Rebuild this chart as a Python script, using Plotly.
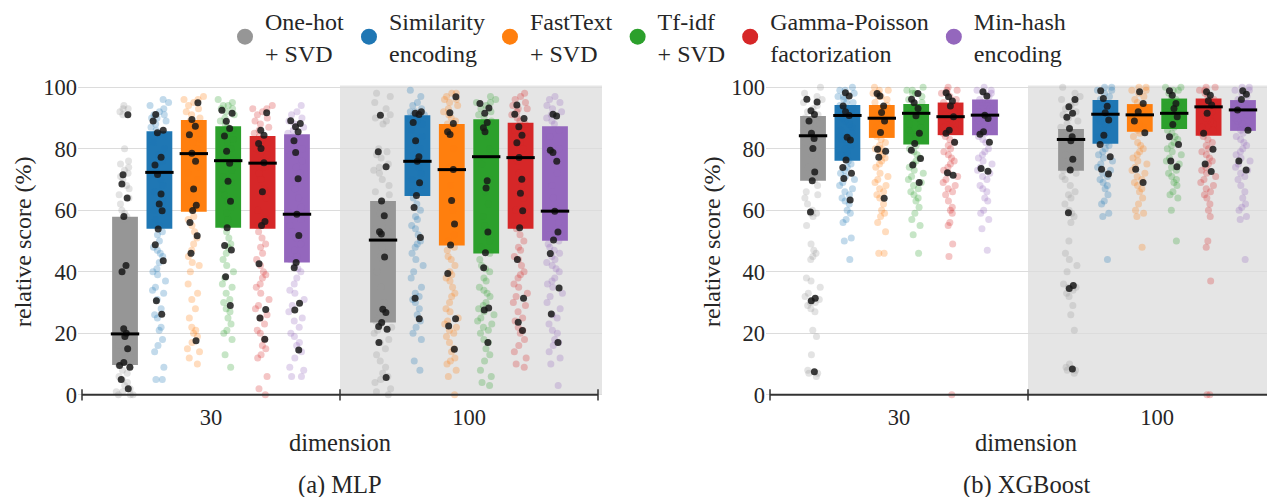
import plotly.graph_objects as go

# ---------------- data ----------------
ENCODERS = ["One-hot<br>+ SVD", "Similarity<br>encoding", "FastText<br>+ SVD",
            "Tf-idf<br>+ SVD", "Gamma-Poisson<br>factorization", "Min-hash<br>encoding"]
COLORS = ["#969696", "#1f77b4", "#ff7f0e", "#2ca02c", "#d62728", "#9467bd"]
DIMENSIONS = ["30", "100"]
Y_TICKS = [0, 20, 40, 60, 80, 100]

# box statistics: [dimension][encoder]
mlp_q1 = [[9.7, 54.0, 59.5, 54.3, 54.0, 43.0], [23.5, 64.6, 48.5, 45.9, 54.0, 50.1]]
mlp_med = [[19.8, 72.3, 78.4, 76.1, 75.3, 58.7], [50.3, 75.9, 73.2, 77.4, 77.1, 59.7]]
mlp_q3 = [[57.9, 85.7, 89.3, 87.3, 84.1, 84.7], [63.0, 90.9, 88.0, 89.6, 88.4, 87.3]]
xgb_q1 = [[69.6, 76.1, 83.5, 81.4, 84.4, 84.4], [72.8, 81.6, 85.5, 86.4, 84.2, 85.8]]
xgb_med = [[84.2, 90.8, 89.9, 91.5, 90.4, 90.9], [83.0, 91.2, 91.0, 91.5, 93.6, 92.6]]
xgb_q3 = [[90.6, 94.2, 94.2, 94.5, 95.0, 96.0], [86.4, 95.8, 94.5, 96.3, 96.3, 95.8]]

# per-dataset medians (black dots)
mlp_dots_30 = [
    [91, 71.5, 68.5, 64, 58, 42, 40, 21.5, 20, 19, 15, 10.5, 9.5, 9, 5, 2],
    [91.1, 89, 86, 85.2, 77.2, 74.7, 71.6, 65.3, 62, 59.8, 53.9, 48.8, 43.6, 30.6, 26.2],
    [94.9, 89.5, 87.3, 84.5, 78.5, 75.9, 66.9, 61.6, 59.9, 56, 51.7, 46, 17.6],
    [92.5, 91.5, 88.9, 86.6, 84.1, 79.2, 75.3, 69.4, 62.9, 54.3, 48.5, 47.1, 38.4, 29],
    [91.7, 86, 84.4, 81.7, 80.1, 75.4, 66, 56.3, 55, 42.6, 27.7, 25, 18.1],
    [89.1, 88.2, 87.1, 85.5, 82.6, 78.8, 70.2, 58.7, 51.8, 43, 41.3, 29.8, 27.6, 14.6],
]
mlp_dots_100 = [
    [90.9, 79, 74.1, 63, 58.2, 53, 52.3, 44.8, 27.8, 26.8, 23.5, 22.2, 21.3, 17, 5.6],
    [92, 91.5, 91.1, 88.5, 82.6, 77.4, 75.9, 68.9, 64.8, 60.9, 51.1, 31.4, 24.7],
    [96.9, 91.7, 88.2, 85.5, 84.6, 73.2, 63.2, 55.5, 48.7, 39.4, 24.7, 22.4, 14.8],
    [94.7, 93.2, 91.5, 88.5, 86.8, 85.5, 69.6, 67.2, 52.9, 46.2, 41.3, 28.2, 27.6, 17],
    [94.2, 91.2, 89.8, 87.1, 84.4, 81.9, 77.1, 70.1, 65.5, 59.8, 54.3, 44, 31.4, 23.6, 20.9],
    [91.2, 90.6, 79.5, 78.8, 75.9, 59.7, 52.9, 50.3, 45.9, 34.7, 26.3, 17],
]
xgb_dots_30 = [
    [96.1, 95.2, 92.3, 91.1, 89, 85, 83.3, 80.1, 72.4, 69.6, 59.4, 31.4, 30.6, 7.5],
    [98.2, 97.1, 93.9, 92, 90.8, 83.7, 82.8, 76.3, 73.9, 72, 70.3, 63.3],
    [97.9, 97.1, 93.9, 91.8, 89, 85.3, 79.8, 79.2, 77.2, 63.9],
    [97.9, 96.1, 94.9, 93.1, 90.7, 85, 81.7, 79.5, 76.8, 74.7, 69],
    [98.2, 96.9, 95.5, 93.9, 90.4, 86, 85, 82.1, 72.2, 71.4],
    [98.5, 97.1, 90.9, 89.8, 85.5, 84.7, 82.1, 73.6, 72.7],
]
xgb_dots_100 = [
    [96, 93.6, 91.5, 90.2, 86.6, 83.9, 82.6, 76.6, 73.1, 59.2, 35.5, 34.6, 8.4],
    [98.8, 96.3, 93.8, 91.7, 89.3, 84.4, 81.4, 77.4, 73.3, 71.8],
    [98.5, 94.7, 92, 89, 85.2, 73.3, 69],
    [98.8, 97.4, 94.7, 93.1, 90.4, 87.9, 83.9, 81.4, 76, 74.1],
    [98.5, 97.4, 95.6, 94.2, 91.5, 85, 79.8, 75, 72.6],
    [98.8, 97.7, 96, 92.6, 86, 76, 73.1],
]

# individual scores (faint points)
mlp_pts_30 = [
    [94, 93, 93, 92, 91, 80, 76, 75, 74, 73, 72, 71, 70, 68, 67, 65, 64, 62, 60, 59, 58, 57, 42, 40,
     22, 21, 20, 19, 18, 16, 14, 12, 11, 10, 9, 8, 7, 6, 5, 4, 3, 2, 1, 1, 0, 0, 0],
    [96, 95, 94, 93, 92, 91, 91, 90, 90, 89, 88, 87, 86, 85, 84, 82, 80, 78, 76, 74, 72, 70, 68, 66,
     63, 60, 57, 55, 53, 52, 50, 48, 47, 46, 45, 43, 41, 40, 39, 37, 35, 34, 33, 31, 28, 26, 25, 22,
     21, 18, 16, 14, 9, 5, 5],
    [97, 96, 96, 95, 94, 93, 92, 91, 90, 89, 88, 87, 86, 85, 84, 83, 82, 80, 79, 78, 76, 74, 72, 70,
     68, 66, 64, 62, 60, 58, 57, 55, 53, 51, 49, 47, 45, 43, 42, 40, 36, 33, 31, 28, 25, 22, 21, 20,
     19, 17, 15, 14, 12, 10],
    [96, 95, 94, 94, 93, 93, 92, 91, 90, 89, 88, 87, 86, 85, 83, 82, 80, 78, 76, 75, 73, 71, 69, 67,
     65, 63, 61, 59, 57, 55, 53, 51, 49, 48, 46, 44, 42, 40, 38, 36, 35, 33, 31, 30, 28, 27, 25, 23,
     21, 20, 18, 13, 9],
    [94, 93, 93, 92, 91, 90, 89, 88, 87, 86, 85, 84, 83, 82, 80, 78, 76, 74, 72, 70, 67, 64, 60, 57,
     55, 53, 51, 49, 48, 46, 44, 42, 40, 39, 38, 36, 35, 33, 31, 29, 28, 26, 25, 23, 21, 20, 18, 16,
     15, 13, 12, 6, 2, 0],
    [94, 92, 91, 90, 89, 88, 87, 86, 85, 84, 82, 80, 78, 76, 74, 72, 70, 67, 64, 61, 59, 57, 55, 53,
     51, 49, 47, 45, 44, 42, 41, 40, 38, 36, 34, 33, 31, 29, 27, 25, 24, 22, 20, 19, 17, 16, 14, 12,
     9, 8, 6, 6],
]
mlp_pts_100 = [
    [98, 97, 95, 93, 91, 90, 89, 88, 80, 79, 78, 77, 75, 74, 73, 72, 70, 68, 66, 65, 63, 62, 61, 59,
     58, 56, 54, 53, 52, 50, 48, 46, 45, 44, 40, 35, 30, 28, 27, 26, 24, 23, 22, 21, 20, 18, 17, 15,
     13, 11, 9, 7, 6, 5, 4, 2, 1, 0],
    [99, 97, 95, 94, 93, 92, 92, 91, 91, 90, 90, 89, 88, 86, 84, 82, 80, 78, 76, 74, 72, 70, 68, 66,
     64, 62, 60, 58, 57, 55, 54, 52, 50, 49, 48, 46, 44, 42, 40, 38, 35, 33, 32, 31, 30, 28, 26, 24,
     22, 20, 18, 11, 8],
    [98, 98, 97, 96, 96, 95, 94, 93, 92, 91, 90, 89, 88, 86, 84, 80, 74, 68, 60, 52, 50, 48, 47, 45,
     44, 42, 40, 39, 38, 37, 35, 33, 32, 30, 28, 27, 25, 24, 23, 22, 21, 20, 19, 17, 15, 14, 12, 11,
     10, 8, 6, 0],
    [97, 96, 95, 95, 94, 93, 92, 91, 90, 89, 88, 87, 86, 84, 80, 75, 70, 66, 62, 58, 55, 52, 50, 48,
     46, 44, 42, 41, 40, 38, 37, 35, 34, 33, 32, 30, 29, 28, 27, 26, 25, 24, 23, 22, 21, 20, 18, 17,
     15, 13, 11, 8, 6, 4, 3],
    [98, 97, 96, 95, 94, 93, 93, 92, 91, 90, 89, 88, 86, 84, 82, 80, 76, 72, 68, 64, 60, 57, 55, 54,
     52, 50, 48, 47, 45, 44, 42, 40, 39, 38, 36, 35, 33, 32, 30, 29, 27, 25, 24, 22, 21, 20, 18, 16,
     14, 12, 10, 9],
    [97, 96, 95, 94, 93, 92, 91, 90, 89, 88, 86, 84, 80, 76, 72, 68, 64, 60, 56, 52, 50, 49, 48, 47,
     46, 45, 44, 43, 42, 41, 40, 38, 37, 36, 35, 33, 32, 30, 28, 26, 25, 23, 21, 20, 18, 17, 16, 14,
     12, 10, 3],
]
xgb_pts_30 = [
    [100, 98, 97, 96, 95, 94, 93, 92, 91, 90, 89, 88, 87, 86, 85, 84, 83, 82, 80, 78, 76, 74, 72, 70,
     68, 66, 65, 64, 62, 60, 59, 59, 58, 55, 49, 47, 46, 45, 44, 38, 37, 35, 33, 32, 31, 30, 30, 29,
     28, 27, 21, 19, 13, 8, 7, 7, 6],
    [100, 99, 99, 98, 97, 97, 96, 95, 95, 94, 93, 92, 91, 90, 89, 88, 87, 86, 85, 84, 83, 82, 81, 80,
     79, 78, 77, 76, 75, 74, 73, 72, 71, 70, 69, 68, 67, 66, 65, 64, 63, 62, 60, 59, 57, 56, 51, 50, 44],
    [100, 99, 99, 98, 98, 97, 97, 96, 95, 94, 93, 92, 91, 90, 89, 88, 87, 86, 85, 84, 83, 82, 81, 80,
     80, 79, 78, 77, 76, 75, 74, 72, 71, 70, 69, 68, 67, 66, 65, 64, 62, 60, 59, 58, 56, 53, 46, 46],
    [100, 99, 99, 98, 98, 97, 96, 95, 94, 93, 92, 91, 90, 89, 88, 87, 86, 85, 84, 83, 82, 81, 80, 79,
     78, 77, 76, 75, 74, 73, 72, 71, 70, 69, 68, 67, 66, 65, 64, 63, 61, 59, 57, 55, 52, 46],
    [100, 99, 99, 98, 98, 97, 96, 95, 94, 93, 92, 91, 90, 89, 88, 87, 86, 85, 84, 83, 82, 81, 80, 79,
     78, 77, 76, 75, 74, 73, 72, 71, 70, 69, 68, 67, 66, 65, 63, 61, 60, 59, 56, 55, 49, 45, 0],
    [100, 99, 99, 98, 98, 97, 96, 95, 94, 93, 92, 91, 90, 89, 88, 87, 86, 85, 84, 83, 82, 80, 79, 78,
     77, 76, 75, 74, 73, 72, 71, 70, 68, 67, 66, 64, 63, 60, 59, 57, 54, 47],
]
xgb_pts_100 = [
    [100, 98, 97, 96, 95, 94, 93, 92, 91, 90, 89, 88, 87, 86, 85, 84, 83, 82, 81, 80, 78, 76, 75, 74,
     73, 72, 71, 70, 68, 66, 65, 64, 62, 60, 59, 58, 56, 50, 46, 44, 42, 40, 36, 35, 35, 34, 33, 32,
     29, 26, 21, 10, 9, 8, 8, 7],
    [100, 100, 99, 99, 98, 97, 96, 95, 94, 93, 92, 91, 90, 89, 88, 87, 86, 85, 84, 83, 82, 81, 80, 79,
     78, 77, 76, 75, 74, 73, 72, 71, 70, 69, 68, 67, 65, 63, 62, 59, 58, 44],
    [100, 100, 99, 99, 98, 97, 96, 95, 94, 93, 92, 91, 90, 89, 88, 87, 86, 85, 84, 82, 81, 80, 79, 78,
     77, 76, 75, 74, 73, 72, 71, 70, 69, 68, 67, 66, 64, 62, 60, 59, 58, 48],
    [100, 100, 99, 99, 98, 97, 96, 95, 94, 93, 92, 91, 90, 89, 88, 87, 86, 85, 84, 83, 82, 81, 80, 79,
     78, 77, 76, 75, 74, 73, 72, 71, 70, 69, 68, 66, 65, 64, 60, 50],
    [100, 100, 99, 99, 98, 97, 96, 95, 94, 93, 92, 91, 90, 89, 88, 87, 86, 85, 84, 83, 82, 81, 80, 79,
     78, 77, 76, 75, 74, 73, 72, 71, 70, 69, 68, 67, 66, 65, 64, 62, 60, 58, 50, 48, 37, 0, 0],
    [100, 100, 99, 99, 98, 97, 96, 95, 94, 93, 92, 91, 90, 89, 88, 87, 86, 85, 84, 83, 82, 81, 80, 79,
     78, 77, 76, 75, 74, 73, 72, 71, 70, 68, 66, 64, 62, 61, 60, 58, 57, 44],
]

# ---------------- style ----------------
FONT = "Liberation Serif"
TEXT = "#262626"
SPACING = 0.1333
BOXW = 0.1


def rgba(h, a):
    h = h.lstrip("#")
    return "rgba(%d,%d,%d,%s)" % (int(h[0:2], 16), int(h[2:4], 16), int(h[4:6], 16), a)


fig = go.Figure()

panels = [
    ("x", "y", mlp_q1, mlp_med, mlp_q3, [mlp_pts_30, mlp_pts_100], [mlp_dots_30, mlp_dots_100]),
    ("x2", "y2", xgb_q1, xgb_med, xgb_q3, [xgb_pts_30, xgb_pts_100], [xgb_dots_30, xgb_dots_100]),
]

for xa, ya, q1, med, q3, pts, dots in panels:
    # boxes (interquartile range)
    for e in range(len(ENCODERS)):
        xs = [ci + (e - 2.5) * SPACING for ci in range(len(DIMENSIONS))]
        fig.add_trace(go.Bar(
            x=xs, base=[q1[ci][e] for ci in range(len(DIMENSIONS))],
            y=[q3[ci][e] - q1[ci][e] for ci in range(len(DIMENSIONS))],
            width=BOXW, marker=dict(color=COLORS[e], line=dict(width=0)),
            xaxis=xa, yaxis=ya, showlegend=False, hoverinfo="skip"))
    # faint points
    for ci in range(len(DIMENSIONS)):
        for e in range(len(ENCODERS)):
            pos = ci + (e - 2.5) * SPACING
            vals = pts[ci][e]
            fig.add_trace(go.Box(
                x=[pos] * len(vals), y=vals, boxpoints="all", jitter=0.8, pointpos=0,
                width=BOXW, fillcolor="rgba(0,0,0,0)", line=dict(width=0, color="rgba(0,0,0,0)"),
                marker=dict(color=rgba(COLORS[e], 0.27), size=7, line=dict(width=0)),
                xaxis=xa, yaxis=ya, showlegend=False, hoverinfo="skip"))
    # black dots
    for ci in range(len(DIMENSIONS)):
        for e in range(len(ENCODERS)):
            pos = ci + (e - 2.5) * SPACING
            vals = dots[ci][e]
            fig.add_trace(go.Box(
                x=[pos] * len(vals), y=vals, boxpoints="all", jitter=0.5, pointpos=0,
                width=BOXW, fillcolor="rgba(0,0,0,0)", line=dict(width=0, color="rgba(0,0,0,0)"),
                marker=dict(color="rgba(25,25,25,0.85)", size=7, line=dict(width=0)),
                xaxis=xa, yaxis=ya, showlegend=False, hoverinfo="skip"))
    # median lines
    mx, my = [], []
    for ci in range(len(DIMENSIONS)):
        for e in range(len(ENCODERS)):
            pos = ci + (e - 2.5) * SPACING
            mx += [pos - 0.055, pos + 0.055, None]
            my += [med[ci][e], med[ci][e], None]
    fig.add_trace(go.Scatter(x=mx, y=my, mode="lines", line=dict(color="black", width=3),
                             xaxis=xa, yaxis=ya, showlegend=False, hoverinfo="skip",
                             cliponaxis=False))

# legend entries
for e in range(len(ENCODERS)):
    fig.add_trace(go.Scatter(x=[None], y=[None], mode="markers", name=ENCODERS[e],
                             marker=dict(color=COLORS[e], size=16), xaxis="x", yaxis="y"))

# The page body adds an 8px margin: lay out in reference pixels minus OFF.
OFF = 8
W, H = 1275 - OFF, 497 - OFF
TOP, BOT = 81 - OFF, 401 - OFF  # plot area in px
PX = 258.0


def py(ypx_ref):
    return (BOT - (ypx_ref - OFF)) / (BOT - TOP)


def pxr(xpx_ref):
    return (xpx_ref - OFF) / W


L0, L1 = 78, 602
R0, R1 = 766, 1275
ext = 4 / PX

axis_common = dict(showgrid=False, zeroline=False, showline=False, ticks="", automargin=False,
                   tickvals=[0, 1], ticktext=DIMENSIONS,
                   tickfont=dict(family=FONT, size=22.5, color=TEXT))
yaxis_common = dict(range=[-2, 102], tickvals=Y_TICKS, showgrid=True, gridcolor="#dcdcdc",
                    gridwidth=1.3, zeroline=False, showline=False, ticks="", automargin=False,
                    tickfont=dict(family=FONT, size=22.5, color=TEXT), domain=[0, 1])

fig.update_layout(
    template="none",
    width=W, height=H, margin=dict(l=0, r=0, t=TOP, b=H - BOT, autoexpand=False),
    plot_bgcolor="white", paper_bgcolor="white", barmode="overlay", boxmode="overlay",
    font=dict(family=FONT, size=24, color=TEXT),
    xaxis=dict(domain=[pxr(L0), pxr(L1)], range=[-0.5 - ext, 1.5 + ext], anchor="y", **axis_common),
    xaxis2=dict(domain=[pxr(R0), 1.0], range=[-0.5 - ext, -0.5 - ext + (R1 - R0) / PX],
                anchor="y2", **axis_common),
    yaxis=dict(anchor="x", **yaxis_common),
    yaxis2=dict(anchor="x2", **yaxis_common),
    legend=dict(orientation="h", x=pxr(648), xanchor="center", y=py(OFF - 9), yanchor="top",
                font=dict(family=FONT, size=24, color=TEXT), itemsizing="trace",
                bgcolor="rgba(0,0,0,0)"),
)

shapes = []
for xr, yr, xend in [("x", "y", 1.5 + ext), ("x2", "y2", 1.5 + ext)]:
    shapes.append(dict(type="rect", xref=xr, yref=yr, x0=0.5, x1=xend, y0=0, y1=100.5,
                       fillcolor="#e5e5e5", line=dict(width=0), layer="below"))
    shapes.append(dict(type="line", xref=xr, yref=yr, x0=-0.5, x1=1.5, y0=0, y1=0,
                       line=dict(color="#333333", width=2), layer="above"))
    for t in [-0.5, 0.5, 1.5]:
        shapes.append(dict(type="line", xref=xr, yref=yr, x0=t, x1=t, y0=-1.8, y1=1.8,
                           line=dict(color="#333333", width=1.5), layer="above"))
fig.update_layout(shapes=shapes)

ann = []
for xc in [23, 712]:
    ann.append(dict(text="relative score (%)", x=pxr(xc), y=py(242), xref="paper", yref="paper",
                    showarrow=False, textangle=-90, xanchor="center", yanchor="middle",
                    font=dict(family=FONT, size=24, color=TEXT)))
for xc, sub in [(340, "(a) MLP"), (1026, "(b) XGBoost")]:
    ann.append(dict(text="dimension", x=pxr(xc), y=py(442), xref="paper", yref="paper",
                    showarrow=False, xanchor="center", yanchor="middle",
                    font=dict(family=FONT, size=24.5, color=TEXT)))
    ann.append(dict(text=sub, x=pxr(xc), y=py(485), xref="paper", yref="paper",
                    showarrow=False, xanchor="center", yanchor="middle",
                    font=dict(family=FONT, size=24.5, color=TEXT)))
fig.update_layout(annotations=ann)

fig.write_html("out.html")
